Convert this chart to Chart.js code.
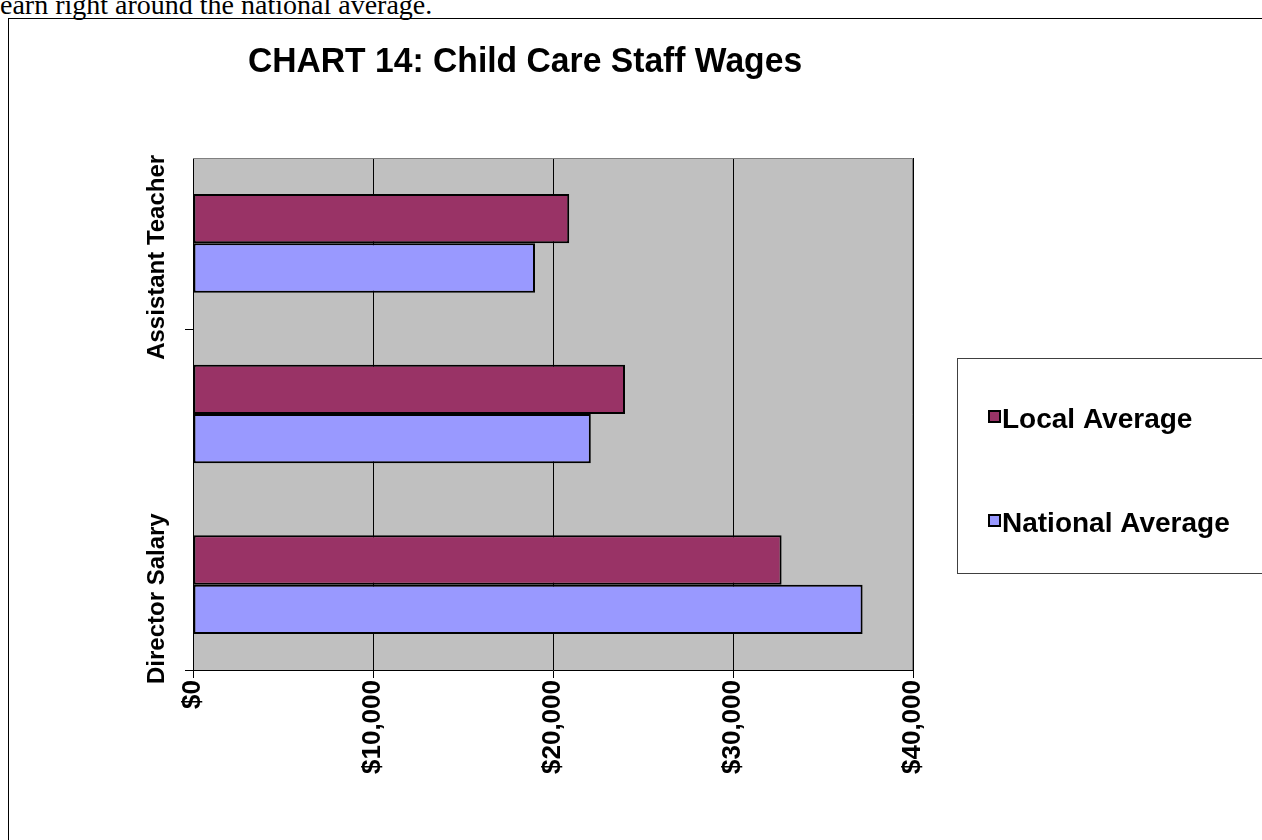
<!DOCTYPE html>
<html>
<head>
<meta charset="utf-8">
<title>Child Care Staff Wages</title>
<script src="https://cdn.jsdelivr.net/npm/chart.js@4/dist/chart.umd.min.js"></script>
<style>
  html, body { margin: 0; padding: 0; overflow: hidden; background: #fff; }
  #lead {
    position: absolute; left: 0; top: -9px;
    font: 28px "Liberation Serif", "Times New Roman", serif;
    line-height: 28px; white-space: nowrap; color: #000;
  }
  #frame {
    position: absolute; left: 8px; top: 18px;
    width: 1300px; height: 900px;
    border: 1px solid #000;
  }
  #frame canvas { display: block; }
</style>
</head>
<body>
<div id="lead">earn right around the national average.</div>
<div id="frame"><canvas id="wages" width="1253" height="821"></canvas></div>
<script>
// wage data, top row first
const categories = ['Assistant Teacher', '', 'Director Salary'];
const localAverage = [20900, 24000, 32700];
const nationalAverage = [19000, 22100, 37200];
const seriesNames = ['Local Average', 'National Average'];
const seriesColors = ['#993366', '#9999FF'];
const chartTitle = 'CHART 14: Child Care Staff Wages';

const FONT = '"Liberation Sans", Arial, sans-serif';

// gray plot background + title, rotated category labels, legend box
const excelLook = {
  id: 'excelLook',
  beforeDraw(chart) {
    const a = chart.chartArea, c = chart.ctx;
    c.save();
    c.fillStyle = '#C0C0C0';
    c.fillRect(a.left, a.top, a.right - a.left, a.bottom - a.top);
    c.restore();
  },
  afterDraw(chart) {
    const a = chart.chartArea, c = chart.ctx;
    const y = chart.scales.y;
    c.save();

    // plot border top/right
    c.strokeStyle = '#808080';
    c.lineWidth = 1;
    c.beginPath();
    c.moveTo(a.left, a.top + 0.5);
    c.lineTo(a.right - 0.5, a.top + 0.5);
    c.lineTo(a.right - 0.5, a.bottom);
    c.stroke();

    // title, a bit taller than wide like the original
    c.fillStyle = '#000';
    c.font = 'bold 33px ' + FONT;
    c.textAlign = 'center';
    c.textBaseline = 'alphabetic';
    c.save();
    c.translate(516, 53);
    c.scale(1.02, 1.06);
    c.fillText(chartTitle, 0, 0);
    c.restore();

    // category tick marks, every second boundary from the bottom
    const p0 = y.getPixelForValue(0), p1 = y.getPixelForValue(1);
    c.strokeStyle = '#000';
    c.beginPath();
    [(p0 + p1) / 2, a.bottom].forEach(py => {
      c.moveTo(a.left - 8, Math.round(py) + 0.5);
      c.lineTo(a.left, Math.round(py) + 0.5);
    });
    c.stroke();

    // rotated category labels
    c.font = 'bold 24px ' + FONT;
    c.textAlign = 'center';
    c.textBaseline = 'alphabetic';
    categories.forEach((lab, i) => {
      if (!lab) return;
      const py = y.getPixelForValue(i) + 14;
      c.save();
      c.translate(155, py);
      c.rotate(-Math.PI / 2);
      c.fillText(lab, 0, 0);
      c.restore();
    });

    // legend
    const lx = 948, ly = 339, lh = 215;
    c.fillStyle = '#fff';
    c.fillRect(lx, ly, 400, lh);
    c.strokeStyle = '#404040';
    c.lineWidth = 1;
    c.strokeRect(lx + 0.5, ly + 0.5, 400, lh);
    c.font = 'bold 28px ' + FONT;
    c.textAlign = 'left';
    chart.data.datasets.forEach((ds, i) => {
      const base = 409 + i * 104;
      c.fillStyle = ds.backgroundColor;
      c.fillRect(980, base - 17, 11, 11);
      c.strokeStyle = '#000';
      c.lineWidth = 2;
      c.strokeRect(980, base - 17, 11, 11);
      c.fillStyle = '#000';
      c.fillText(ds.label, 993, base);
    });
    c.restore();
  }
};

new Chart(document.getElementById('wages'), {
  type: 'bar',
  data: {
    labels: categories,
    datasets: [
      {
        label: seriesNames[0],
        data: localAverage,
        backgroundColor: seriesColors[0],
        borderColor: '#000',
        borderWidth: 2,
        borderSkipped: false
      },
      {
        label: seriesNames[1],
        data: nationalAverage,
        backgroundColor: seriesColors[1],
        borderColor: '#000',
        borderWidth: 2,
        borderSkipped: false
      }
    ]
  },
  options: {
    indexAxis: 'y',
    responsive: false,
    animation: false,
    layout: { padding: { left: 0, top: 139, right: 349, bottom: 0 } },
    datasets: { bar: { categoryPercentage: 0.578, barPercentage: 1.0 } },
    plugins: {
      legend: { display: false },
      title: { display: false },
      tooltip: { enabled: false }
    },
    scales: {
      x: {
        min: 0,
        max: 40000,
        ticks: {
          stepSize: 10000,
          minRotation: 90,
          maxRotation: 90,
          padding: 2,
          color: '#000',
          font: { family: FONT, size: 26, weight: 'bold' },
          callback: v => '$' + v.toLocaleString('en-US')
        },
        grid: { color: '#000', lineWidth: 1, tickLength: 8 },
        border: { color: '#000', width: 1 },
        afterFit: s => { s.height = 170; }
      },
      y: {
        ticks: { display: false },
        grid: { display: false },
        border: { color: '#000', width: 1 },
        afterFit: s => { s.width = 184; }
      }
    }
  },
  plugins: [excelLook]
});
</script>
</body>
</html>
